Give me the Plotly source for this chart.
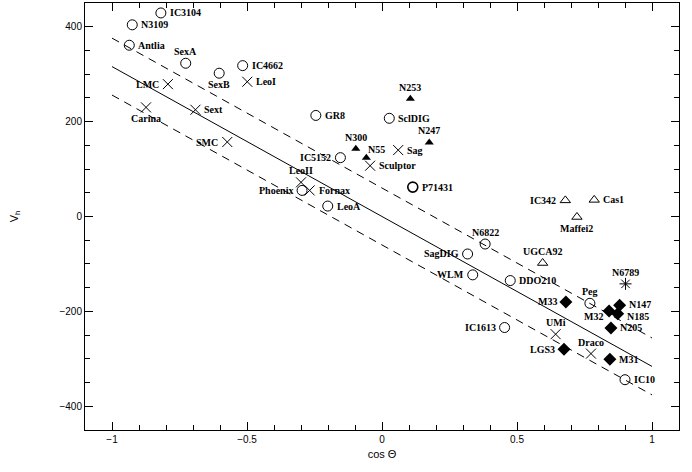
import plotly.graph_objects as go

# ---------------- data ----------------
circ_names = ["IC3104", "N3109", "Antlia", "SexA", "SexB", "IC4662", "GR8", "SclDIG",
              "IC5152", "P71431", "Phoenix", "LeoA", "N6822", "SagDIG", "WLM", "DDO210",
              "Peg", "IC1613", "IC10"]
circ_x = [-0.819, -0.925, -0.936, -0.727, -0.603, -0.516, -0.245, 0.027,
          -0.154, 0.114, -0.296, -0.201, 0.382, 0.317, 0.336, 0.475,
          0.770, 0.454, 0.900]
circ_y = [429, 404, 361, 323, 302, 318, 213, 207,
          124, 62, 55, 22, -58, -79, -123, -135,
          -183, -234, -344]

cross_names = ["LMC", "LeoI", "Sext", "Carina", "SMC", "LeoII", "Fornax", "Sag",
               "Sculptor", "UMi", "Draco"]
cross_x = [-0.793, -0.499, -0.691, -0.874, -0.573, -0.300, -0.268, 0.060,
           -0.044, 0.643, 0.774]
cross_y = [279, 284, 225, 230, 157, 72, 55, 140,
           107, -248, -289]

ftri_names = ["N253", "N247", "N300", "N55"]
ftri_x = [0.105, 0.175, -0.097, -0.058]
ftri_y = [248, 156, 143, 124]

otri_names = ["IC342", "Cas1", "Maffei2", "UGCA92"]
otri_x = [0.679, 0.786, 0.722, 0.595]
otri_y = [34, 35, -1, -98]

diam_names = ["M33", "N147", "M32", "N185", "N205", "LGS3", "M31"]
diam_x = [0.681, 0.880, 0.841, 0.873, 0.848, 0.674, 0.844]
diam_y = [-180, -187, -199, -205, -235, -280, -301]

star_names = ["N6789"]
star_x = [0.902]
star_y = [-142]

# solar-motion line and +/- band
fit_x = [-1.0, 1.0]
fit_y = [316, -316]
band = 60

x_ticks = [-1, -0.5, 0, 0.5, 1]
x_ticklabels = ["\u22121", "\u22120.5", "0", "0.5", "1"]
y_ticks = [-400, -200, 0, 200, 400]
y_ticklabels = ["\u2212400", "\u2212200", "0", "200", "400"]

# ---------------- label placement (style) ----------------
label_pos = {
    "IC3104": "r", "N3109": "r", "Antlia": "r", "SexA": "t", "SexB": "b", "IC4662": "r",
    "GR8": "r", "SclDIG": "r", "IC5152": "l", "P71431": "r", "Phoenix": "l", "LeoA": "r",
    "N6822": "t", "SagDIG": "l", "WLM": "l", "DDO210": "r", "Peg": "t", "IC1613": "l",
    "IC10": "r", "LMC": "l", "LeoI": "r", "Sext": "r", "Carina": "b", "SMC": "l",
    "LeoII": "t", "Fornax": "r", "Sag": "r", "Sculptor": "r", "UMi": "t", "Draco": "t",
    "N253": "t", "N247": "t", "N300": "t", "N55": "tr", "IC342": "l", "Cas1": "r",
    "Maffei2": "b", "UGCA92": "t", "M33": "l", "N147": "rt", "M32": "bl", "N185": "rb",
    "N205": "r", "LGS3": "l", "M31": "r", "N6789": "t",
}

fig = go.Figure()

line_style = dict(color="black", width=1)
fig.add_trace(go.Scatter(x=fit_x, y=fit_y, mode="lines", line=line_style, hoverinfo="skip"))
fig.add_trace(go.Scatter(x=fit_x, y=[v + band for v in fit_y], mode="lines",
                         line=dict(color="black", width=1, dash="8px,6px"), hoverinfo="skip"))
fig.add_trace(go.Scatter(x=fit_x, y=[v - band for v in fit_y], mode="lines",
                         line=dict(color="black", width=1, dash="8px,6px"), hoverinfo="skip"))

groups = [
    (circ_names, circ_x, circ_y, dict(symbol="circle-open", size=10, color="black",
                                      line=dict(width=[1.6 if n == "P71431" else 1 for n in circ_names]))),
    (cross_names, cross_x, cross_y, dict(symbol="x-thin-open", size=10, color="black", line=dict(width=1, color="black"))),
    (ftri_names, ftri_x, ftri_y, dict(symbol="triangle-up", size=8, color="black")),
    (otri_names, otri_x, otri_y, dict(symbol="triangle-up-open", size=9, color="black", line=dict(width=1))),
    (diam_names, diam_x, diam_y, dict(symbol="diamond", size=10, color="black")),
    (star_names, star_x, star_y, dict(symbol="asterisk-open", size=10, color="black", line=dict(width=1, color="black"))),
]

shifts = {
    "r": dict(xanchor="left", yanchor="middle", xshift=7, yshift=0),
    "rt": dict(xanchor="left", yanchor="middle", xshift=7, yshift=1),
    "rb": dict(xanchor="left", yanchor="middle", xshift=7, yshift=-3),
    "l": dict(xanchor="right", yanchor="middle", xshift=-7, yshift=0),
    "t": dict(xanchor="center", yanchor="bottom", xshift=0, yshift=4),
    "b": dict(xanchor="center", yanchor="top", xshift=0, yshift=-4),
    "tr": dict(xanchor="left", yanchor="bottom", xshift=0, yshift=1),
    "bl": dict(xanchor="right", yanchor="top", xshift=-4, yshift=2),
}

for names, xs, ys, mk in groups:
    fig.add_trace(go.Scatter(x=xs, y=ys, mode="markers", marker=mk, text=names, hoverinfo="text"))
    for n, xv, yv in zip(names, xs, ys):
        s = shifts[label_pos[n]]
        fig.add_annotation(x=xv, y=yv, text=n, showarrow=False,
                           font=dict(family="Liberation Serif", size=10, color="black", weight="bold"),
                           **s)

axis_common = dict(
    showgrid=False, zeroline=False, showline=True, linecolor="black", linewidth=1,
    mirror="ticks", ticks="inside", ticklen=8, tickwidth=1, tickcolor="black",
    tickfont=dict(family="Liberation Sans", size=10, color="black"),
)

fig.update_xaxes(range=[-1.1, 1.1], tickvals=x_ticks, ticktext=x_ticklabels,
                 minor=dict(dtick=0.1, tick0=0, ticks="inside", ticklen=5, tickcolor="black"),
                 title=dict(text="cos \u0398", font=dict(family="Liberation Sans", size=11, color="black"), standoff=6),
                 **axis_common)
fig.update_yaxes(range=[-450, 450], tickvals=y_ticks, ticktext=y_ticklabels,
                 minor=dict(dtick=50, tick0=0, ticks="inside", ticklen=5, tickcolor="black"),
                 title=dict(text="V<sub>h</sub>", font=dict(family="Liberation Sans", size=11, color="black"), standoff=38),
                 **axis_common)

fig.update_layout(
    width=692, height=472, showlegend=False,
    margin=dict(l=85, r=13, t=3, b=42),
    plot_bgcolor="white", paper_bgcolor="white",
)

fig.write_html("out.html", config={"displayModeBar": False},
               post_script="document.body.style.margin='0';")
